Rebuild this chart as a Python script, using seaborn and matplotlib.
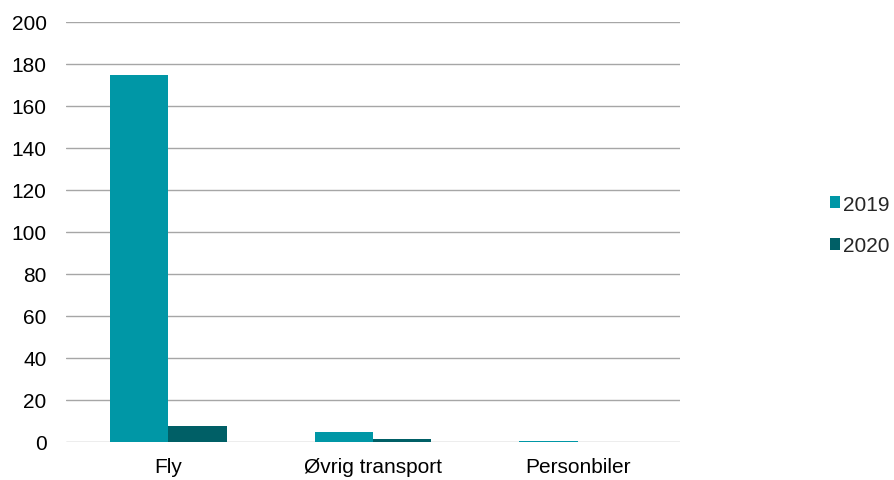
import pandas as pd
import matplotlib
matplotlib.use('Agg')
import matplotlib.pyplot as plt
import seaborn as sns

categories = ['Fly', 'Øvrig transport', 'Personbiler']
years = ['2019', '2020']
values_2019 = [175, 4.8, 0.5]
values_2020 = [7.7, 1.5, 0.1]
y_ticks = [0, 20, 40, 60, 80, 100, 120, 140, 160, 180, 200]

df = pd.DataFrame({
    'Kategori': categories * 2,
    'År': [years[0]] * 3 + [years[1]] * 3,
    'Verdi': values_2019 + values_2020,
})

sns.set_style('white')
plt.rcParams['font.family'] = ['Liberation Sans', 'DejaVu Sans']

fig = plt.figure(figsize=(8.94, 4.81), dpi=100)
ax = fig.add_axes([66 / 894, 1 - 443 / 481, (680 - 66) / 894, (443 - 23) / 481])

palette = {'2019': '#0097A6', '2020': '#005F66'}
sns.barplot(data=df, x='Kategori', y='Verdi', hue='År', palette=palette,
            width=0.57, gap=0, saturation=1, linewidth=0, ax=ax, zorder=3)

ax.set_ylim(0, 200)
ax.set_yticks(y_ticks)
ax.set_xlabel('')
ax.set_ylabel('')
ax.yaxis.grid(True, color='#A6A6A6', linewidth=1, zorder=0)
ax.set_axisbelow(True)
for s in ax.spines.values():
    s.set_visible(False)
ax.tick_params(axis='both', length=0, labelsize=15, colors='black')
ax.tick_params(axis='x', pad=11)
ax.tick_params(axis='y', pad=14)

ax.legend(loc='center left', bbox_to_anchor=(820 / 894, 1 - 226 / 481),
          bbox_transform=fig.transFigure, frameon=False, borderpad=0,
          fontsize=15, handlelength=0.48, handleheight=0.48,
          handletextpad=0.1, labelspacing=1.1)

fig.savefig('out.png', dpi=100)
